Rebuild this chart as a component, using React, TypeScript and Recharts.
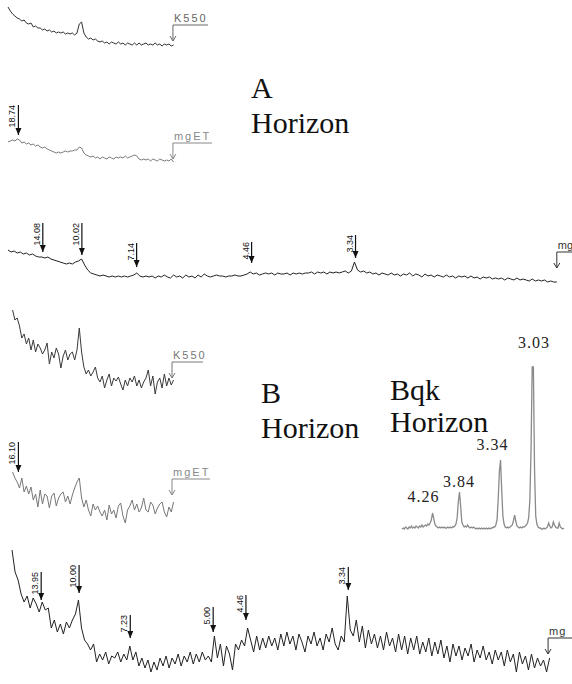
import React from 'react';
import { LineChart, Line, XAxis, YAxis, ReferenceLine, ReferenceDot } from 'recharts';

const SHORT_STEP = 0.15;
const LONG_STEP = 0.2;
const BQK_STEP = 0.1;

// A horizon, K550 and mgET (4–15° 2θ)
const K550_A_START = 4;
const K550_A = [43, 39, 36, 34, 32, 31, 29, 30, 27, 26, 27, 23, 24, 22, 22, 20, 21, 19, 20, 18, 19, 17, 18, 17, 18, 16, 17, 16, 17, 15, 17, 26, 28, 17, 13, 11, 12, 10, 11, 9, 8, 9, 7, 8, 6, 8, 7, 6, 8, 6, 7, 5, 7, 6, 5, 7, 5, 7, 5, 6, 7, 5, 6, 5, 7, 5, 6, 4, 6, 5, 6, 4, 5];
const MGET_A_START = 4;
const MGET_A = [28, 29, 30, 29, 31, 30, 27, 28, 26, 27, 25, 26, 24, 25, 23, 22, 23, 21, 20, 19, 18, 17, 18, 17, 18, 19, 18, 19, 19, 20, 20, 23, 22, 17, 15, 14, 13, 14, 12, 13, 11, 13, 12, 11, 13, 12, 11, 13, 12, 13, 12, 14, 12, 13, 14, 15, 14, 11, 10, 11, 10, 11, 9, 11, 10, 9, 11, 10, 9, 10, 9, 11, 8];
const MGET_A_PEAKS = ['18.74'];
const MGET_A_PEAK_2T = [4.68];
const MGET_A_PEAK_TIP = [35];
const MGET_A_PEAK_TOP = [65];

// A horizon, Mg-saturated (4–40° 2θ)
const MG_A_START = 4;
const MG_A = [40, 38, 39, 37, 38, 36, 37, 35, 36, 34, 33, 33, 32, 33, 31, 30, 29, 28, 27, 26, 27, 26, 28, 29, 31, 25, 20, 17, 16, 15, 14, 15, 14, 13, 14, 13, 14, 13, 14, 13, 14, 15, 17, 14, 13, 14, 13, 14, 12, 14, 13, 15, 13, 12, 15, 13, 14, 12, 15, 13, 14, 12, 15, 13, 16, 14, 13, 14, 15, 14, 14, 13, 14, 14, 15, 14, 14, 15, 16, 18, 16, 17, 15, 16, 17, 16, 17, 15, 17, 16, 16, 17, 15, 17, 16, 17, 16, 17, 17, 18, 16, 18, 17, 18, 16, 18, 17, 18, 17, 18, 19, 17, 19, 28, 20, 18, 19, 17, 18, 16, 17, 15, 17, 16, 15, 17, 15, 16, 14, 16, 15, 17, 14, 16, 15, 13, 16, 14, 15, 13, 15, 14, 13, 15, 13, 14, 12, 14, 13, 14, 12, 14, 12, 13, 11, 13, 12, 13, 11, 12, 11, 12, 10, 12, 11, 10, 12, 10, 11, 10, 9, 11, 9, 10, 9, 10, 8, 9, 8, 8];
const MG_A_PEAKS = ['14.08', '10.02', '7.14', '4.46', '3.34'];
const MG_A_PEAK_2T = [6.27, 8.82, 12.39, 19.89, 26.67];
const MG_A_PEAK_TIP = [38, 35, 23, 27, 32];
const MG_A_PEAK_TOP = [67, 67, 47, 48, 55];

// B horizon, K550 and mgET
const K550_B_START = 4.3;
const K550_B = [90, 80, 82, 74, 62, 66, 56, 62, 50, 60, 48, 56, 52, 46, 50, 57, 36, 48, 42, 52, 46, 32, 44, 50, 40, 46, 48, 40, 50, 72, 48, 33, 26, 30, 24, 28, 33, 22, 18, 24, 12, 20, 26, 14, 22, 19, 23, 16, 10, 20, 14, 22, 18, 24, 14, 20, 12, 18, 22, 30, 14, 24, 6, 18, 22, 12, 26, 14, 22, 15, 20];
const MGET_B_START = 4.3;
const MGET_B = [68, 62, 58, 52, 62, 48, 54, 46, 53, 40, 46, 33, 50, 36, 46, 44, 32, 44, 47, 34, 42, 46, 48, 38, 44, 36, 45, 52, 58, 62, 42, 33, 40, 30, 24, 36, 30, 34, 28, 24, 30, 20, 35, 26, 30, 22, 34, 37, 24, 17, 30, 34, 40, 30, 36, 28, 32, 42, 30, 28, 38, 35, 26, 32, 36, 38, 28, 23, 33, 28, 38];
const MGET_B_PEAKS = ['16.10'];
const MGET_B_PEAK_2T = [4.68];
const MGET_B_PEAK_TIP = [68];
const MGET_B_PEAK_TOP = [98];

// B horizon, Mg-saturated
const MG_B_START = 4.4;
const MG_B = [130, 108, 100, 86, 78, 84, 72, 82, 76, 68, 78, 70, 72, 52, 60, 48, 56, 46, 58, 52, 60, 66, 80, 52, 40, 36, 30, 36, 18, 26, 20, 28, 16, 24, 22, 28, 18, 26, 20, 34, 20, 28, 14, 22, 12, 20, 8, 18, 10, 22, 14, 24, 12, 22, 16, 26, 14, 24, 18, 28, 16, 26, 18, 28, 20, 24, 18, 44, 22, 36, 14, 34, 26, 10, 36, 30, 40, 34, 52, 40, 28, 44, 30, 42, 32, 44, 34, 42, 30, 46, 34, 48, 36, 44, 30, 46, 38, 28, 44, 36, 48, 34, 42, 30, 46, 38, 52, 36, 30, 44, 38, 84, 50, 44, 60, 38, 54, 32, 50, 36, 46, 32, 44, 30, 48, 34, 42, 28, 46, 30, 44, 26, 42, 30, 44, 26, 38, 28, 42, 24, 38, 26, 40, 22, 34, 18, 36, 24, 34, 20, 32, 24, 36, 18, 30, 22, 34, 20, 28, 16, 30, 20, 28, 14, 30, 18, 26, 8, 28, 16, 24, 10, 26, 12, 22, 14, 20, 8, 22];
const MG_B_PEAKS = ['13.95', '10.00', '7.23', '5.00', '4.46', '3.34'];
const MG_B_PEAK_2T = [6.33, 8.84, 12.23, 17.72, 19.89, 26.67];
const MG_B_PEAK_TIP = [80, 87, 42, 48, 60, 90];
const MG_B_PEAK_TOP = [108, 115, 65, 73, 85, 113];

// Bqk horizon inset (18.2–32° 2θ)
const BQK_START = 18.2;
const BQK = [1, 2, 1, 3, 2, 1, 3, 2, 4, 2, 3, 2, 4, 3, 2, 4, 3, 5, 3, 4, 5, 4, 6, 5, 7, 10, 17, 12, 6, 4, 3, 2, 3, 2, 3, 2, 3, 2, 2, 3, 2, 3, 2, 3, 3, 4, 6, 12, 28, 38, 24, 8, 5, 3, 4, 3, 5, 3, 2, 3, 2, 3, 2, 1, 2, 1, 2, 1, 2, 1, 2, 1, 2, 1, 2, 1, 2, 2, 3, 3, 5, 10, 30, 58, 70, 40, 14, 6, 3, 2, 3, 2, 3, 4, 5, 9, 15, 9, 4, 3, 2, 3, 2, 3, 3, 4, 5, 7, 12, 30, 80, 163, 163, 60, 14, 6, 3, 2, 2, 1, 1, 2, 1, 2, 3, 7, 4, 2, 3, 8, 5, 3, 2, 2, 7, 3, 2, 1, 2];
const BQK_LABELS = ['4.26', '3.84', '3.34', '3.03'];
const BQK_LABEL_2T = [20.03, 23.06, 25.91, 29.45];
const BQK_LABEL_Y = [28, 43, 80, 182];

// end-of-scan markers
const END_LABELS = ['K550', 'mgET', 'mg', 'K550', 'mgET', 'mg'];
const END_2T = [14.76, 14.76, 39.8, 14.7, 14.7, 39.9];
const END_Y = [25, 27, 38, 38, 61, 42];

const toRows = (start: number, step: number, vals: number[]) =>
  vals.map((v, i) => ({ t: +(start + i * step).toFixed(3), v }));

const toArrows = (labels: string[], t: number[], tip: number[], top: number[]) =>
  labels.map((label, i) => ({ label, t: t[i], tip: tip[i], top: top[i] }));

const NARROW = "'Liberation Sans Narrow', 'Arial Narrow', 'Liberation Sans', sans-serif";
const SANS = "'Liberation Sans', Arial, sans-serif";
const SERIF = "'Liberation Serif', 'Times New Roman', 'DejaVu Serif', 'Noto Serif', serif";

const ArrowHead = ({ cx, cy }: any) => (
  <path d={`M${cx - 3},${cy - 7}L${cx + 3},${cy - 7}L${cx},${cy}Z`} fill="#111" />
);

const RotLabel = ({ cx, cy, text }: any) => (
  <text
    x={cx - 3}
    y={cy}
    transform={`rotate(-90 ${cx - 3} ${cy})`}
    textAnchor="end"
    fontSize={9}
    fontFamily={NARROW}
    fill="#111"
  >
    {text}
  </text>
);

const EndMark = ({ cx, cy, text, len, color, spacing }: any) => (
  <g>
    <path
      d={`M${cx},${cy}H${cx + len}M${cx},${cy}V${cy + 16}M${cx - 3},${cy + 11}L${cx},${cy + 16}L${cx + 3},${cy + 11}`}
      stroke={color}
      strokeWidth={1}
      fill="none"
    />
    <text x={cx + 1} y={cy - 3} fontSize={11} letterSpacing={spacing} fill={color} fontFamily={SANS}>
      {text}
    </text>
  </g>
);

interface TraceProps {
  left: number;
  top: number;
  width: number;
  height: number;
  plotLeft: number;
  plotTop: number;
  pxPerDeg: number;
  xDomain: [number, number];
  yMax: number;
  rows: { t: number; v: number }[];
  color: string;
  arrows: { label: string; t: number; tip: number; top: number }[];
  endIdx: number;
  endLen: number;
  endColor: string;
  endSpacing?: number;
}

function Trace(p: TraceProps) {
  const plotW = (p.xDomain[1] - p.xDomain[0]) * p.pxPerDeg;
  const margin = {
    top: p.plotTop,
    left: p.plotLeft,
    right: p.width - p.plotLeft - plotW,
    bottom: p.height - p.plotTop - p.yMax,
  };
  return (
    <div style={{ position: 'absolute', left: p.left, top: p.top }}>
      <LineChart width={p.width} height={p.height} data={p.rows} margin={margin}>
        <XAxis type="number" dataKey="t" domain={p.xDomain} hide />
        <YAxis type="number" domain={[0, p.yMax]} hide />
        <Line
          type="linear"
          dataKey="v"
          stroke={p.color}
          strokeWidth={1}
          dot={false}
          activeDot={false}
          isAnimationActive={false}
        />
        {p.arrows.map((a) => (
          <ReferenceLine
            key={'s' + a.label}
            segment={[{ x: a.t, y: a.top }, { x: a.t, y: a.tip }]}
            stroke="#111"
            strokeWidth={1.2}
            ifOverflow="visible"
          />
        ))}
        {p.arrows.map((a) => (
          <ReferenceDot
            key={'h' + a.label}
            x={a.t}
            y={a.tip}
            ifOverflow="visible"
            shape={(s: any) => <ArrowHead cx={s.cx} cy={s.cy} />}
          />
        ))}
        {p.arrows.map((a) => (
          <ReferenceDot
            key={'l' + a.label}
            x={a.t}
            y={a.top}
            ifOverflow="visible"
            shape={(s: any) => <RotLabel cx={s.cx} cy={s.cy} text={a.label} />}
          />
        ))}
        <ReferenceDot
          x={END_2T[p.endIdx]}
          y={END_Y[p.endIdx]}
          ifOverflow="visible"
          shape={(s: any) => (
            <EndMark
              cx={s.cx}
              cy={s.cy}
              text={END_LABELS[p.endIdx]}
              len={p.endLen}
              color={p.endColor}
              spacing={p.endSpacing ?? 2}
            />
          )}
        />
      </LineChart>
    </div>
  );
}

function BqkInset() {
  const rows = toRows(BQK_START, BQK_STEP, BQK);
  const labels = BQK_LABELS.map((text, i) => ({ text, t: BQK_LABEL_2T[i], y: BQK_LABEL_Y[i] }));
  const pxPerDeg = 11.73;
  const plotW = (32 - BQK_START) * pxPerDeg;
  return (
    <div style={{ position: 'absolute', left: 395, top: 320 }}>
      <LineChart width={177} height={215} data={rows} margin={{ top: 10, left: 7, right: 177 - 7 - plotW, bottom: 5 }}>
        <XAxis type="number" dataKey="t" domain={[BQK_START, 32]} hide />
        <YAxis type="number" domain={[0, 200]} hide />
        <Line
          type="linear"
          dataKey="v"
          stroke="#8a8a8a"
          strokeWidth={1.3}
          dot={false}
          activeDot={false}
          isAnimationActive={false}
        />
        {labels.map((l) => (
          <ReferenceDot
            key={l.text}
            x={l.t}
            y={l.y}
            ifOverflow="visible"
            shape={(s: any) => (
              <text x={s.cx} y={s.cy} textAnchor="middle" fontSize={16} letterSpacing={1} fontFamily={SERIF} fill="#222">
                {l.text}
              </text>
            )}
          />
        ))}
      </LineChart>
    </div>
  );
}

const title: React.CSSProperties = {
  position: 'absolute',
  fontFamily: SERIF,
  fontSize: 30,
  lineHeight: '35px',
  color: '#111',
  whiteSpace: 'pre',
};

export default function App() {
  return (
    <div style={{ position: 'absolute', left: 0, top: 0, width: 572, height: 684, background: '#fff', overflow: 'hidden' }}>
      <Trace
        left={0} top={0} width={222} height={50} plotLeft={8} plotTop={0} pxPerDeg={15.33}
        xDomain={[4, 15]} yMax={50}
        rows={toRows(K550_A_START, SHORT_STEP, K550_A)}
        color="#333" arrows={[]} endIdx={0} endLen={35} endColor="#666"
      />
      <Trace
        left={0} top={90} width={222} height={80} plotLeft={8} plotTop={0} pxPerDeg={15.33}
        xDomain={[4, 15]} yMax={80}
        rows={toRows(MGET_A_START, SHORT_STEP, MGET_A)}
        color="#7a7a7a"
        arrows={toArrows(MGET_A_PEAKS, MGET_A_PEAK_2T, MGET_A_PEAK_TIP, MGET_A_PEAK_TOP)}
        endIdx={1} endLen={39} endColor="#888"
      />
      <Trace
        left={0} top={215} width={572} height={75} plotLeft={8} plotTop={0} pxPerDeg={15.33}
        xDomain={[4, 40]} yMax={75}
        rows={toRows(MG_A_START, LONG_STEP, MG_A)}
        color="#222"
        arrows={toArrows(MG_A_PEAKS, MG_A_PEAK_2T, MG_A_PEAK_TIP, MG_A_PEAK_TOP)}
        endIdx={2} endLen={20} endColor="#333" endSpacing={0}
      />
      <Trace
        left={0} top={300} width={222} height={100} plotLeft={8} plotTop={0} pxPerDeg={15.33}
        xDomain={[4, 15]} yMax={100}
        rows={toRows(K550_B_START, SHORT_STEP, K550_B)}
        color="#3a3a3a" arrows={[]} endIdx={3} endLen={31} endColor="#777"
      />
      <Trace
        left={0} top={440} width={222} height={100} plotLeft={8} plotTop={0} pxPerDeg={15.33}
        xDomain={[4, 15]} yMax={100}
        rows={toRows(MGET_B_START, SHORT_STEP, MGET_B)}
        color="#777"
        arrows={toArrows(MGET_B_PEAKS, MGET_B_PEAK_2T, MGET_B_PEAK_TIP, MGET_B_PEAK_TOP)}
        endIdx={4} endLen={38} endColor="#888"
      />
      <Trace
        left={0} top={540} width={572} height={144} plotLeft={6} plotTop={0} pxPerDeg={15.1}
        xDomain={[4, 40]} yMax={140}
        rows={toRows(MG_B_START, LONG_STEP, MG_B)}
        color="#222"
        arrows={toArrows(MG_B_PEAKS, MG_B_PEAK_2T, MG_B_PEAK_TIP, MG_B_PEAK_TOP)}
        endIdx={5} endLen={26} endColor="#333" endSpacing={1}
      />
      <BqkInset />
      <div style={{ ...title, left: 251, top: 70 }}>{'A\nHorizon'}</div>
      <div style={{ ...title, left: 261, top: 375 }}>{'B\nHorizon'}</div>
      <div style={{ ...title, left: 390, top: 374, lineHeight: '32px' }}>{'Bqk\nHorizon'}</div>
    </div>
  );
}
